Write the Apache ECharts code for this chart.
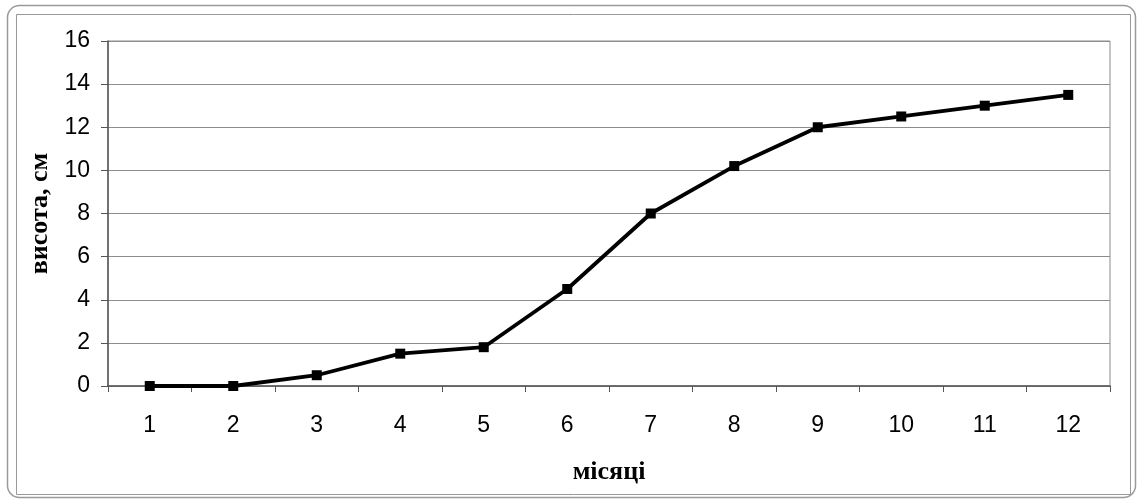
<!DOCTYPE html>
<html><head><meta charset="utf-8">
<script src="https://cdn.jsdelivr.net/npm/echarts@6/dist/echarts.min.js"></script>
<style>html,body{margin:0;padding:0;background:#fff}#c{width:1142px;height:502px}</style>
</head><body><div id="c"></div>
<script>
const months = ['1','2','3','4','5','6','7','8','9','10','11','12'];
const heights = [0, 0, 0.5, 1.5, 1.8, 4.5, 8, 10.2, 12, 12.5, 13, 13.5];
const yTitle = 'висота, см';
const xTitle = 'місяці';

const chart = echarts.init(document.getElementById('c'));
chart.setOption({
  animation: false,
  backgroundColor: '#fff',
  graphic: [
    {type:'rect', shape:{x:7.5,y:5.5,width:1128,height:492,r:12}, style:{fill:'none',stroke:'#9a9a9a',lineWidth:1.5}, silent:true},
    {type:'rect', shape:{x:16.5,y:14.5,width:1114,height:480}, style:{fill:'none',stroke:'#9a9a9a',lineWidth:1}, silent:true}
  ],
  grid: {left:108, right:32, top:41, bottom:116, show:true, borderColor:'#8c8c8c', borderWidth:1, backgroundColor:'transparent'},
  xAxis: {
    type:'category', data: months, boundaryGap:true,
    name: xTitle, nameLocation:'middle', nameGap:73,
    nameTextStyle:{fontFamily:'Liberation Serif', fontWeight:'bold', fontSize:26, color:'#000'},
    axisLine:{show:true, lineStyle:{color:'#555', width:1.5}},
    axisTick:{show:true, inside:false, length:6, alignWithLabel:false, lineStyle:{color:'#555'}},
    axisLabel:{fontFamily:'Liberation Sans', fontSize:23, color:'#000', margin:28},
    splitLine:{show:false}
  },
  yAxis: {
    type:'value', min:0, max:16, interval:2,
    name: yTitle, nameLocation:'middle', nameGap:50, nameRotate:90,
    nameTextStyle:{fontFamily:'Liberation Serif', fontWeight:'bold', fontSize:26, color:'#000'},
    axisLine:{show:true, lineStyle:{color:'#555', width:1.5}},
    axisTick:{show:true, inside:false, length:7, lineStyle:{color:'#555'}},
    axisLabel:{fontFamily:'Liberation Sans', fontSize:23, color:'#000', margin:18},
    splitLine:{show:true, lineStyle:{color:'#8c8c8c', width:1}}
  },
  series: [{
    type:'line', data: heights,
    symbol:'rect', symbolSize:10,
    lineStyle:{color:'#000', width:3.8},
    itemStyle:{color:'#000'}
  }]
});
</script></body></html>
